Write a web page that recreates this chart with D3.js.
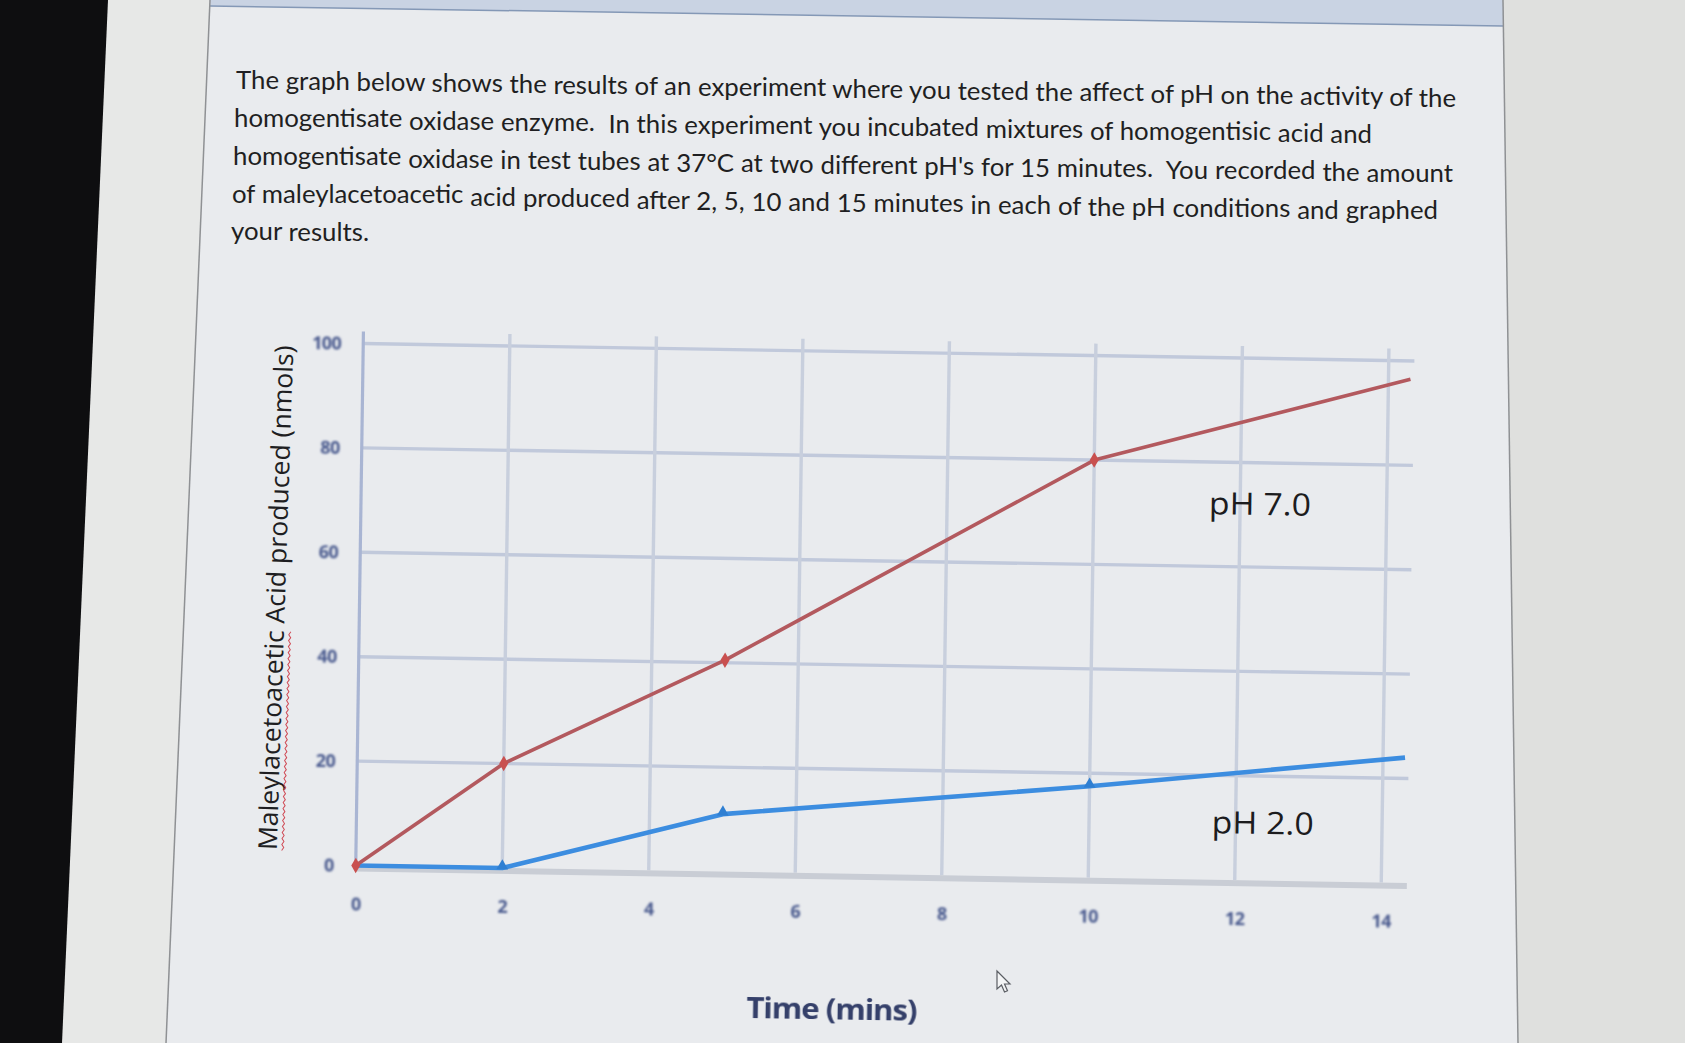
<!DOCTYPE html>
<html><head><meta charset="utf-8">
<script src="https://cdn.jsdelivr.net/npm/d3@7"></script>
<style>html,body{margin:0;padding:0;background:#dfe0de;overflow:hidden}</style>
</head><body><svg id="c" width="1685" height="1043"></svg>
<script>
// ---------- data ----------
const timeTicks = [0, 2, 4, 6, 8, 10, 12, 14];
const yTicks = [0, 20, 40, 60, 80, 100];
const ph7Time = [0, 2, 5, 10, 14.3];
const ph7Values = [0, 20, 40.5, 80, 96.5];
const ph2Time = [0, 2, 5, 10, 14.3];
const ph2Values = [0, 0, 11, 17.5, 24];
const seriesLabels = ["pH 7.0", "pH 2.0"];
const xTitle = "Time (mins)";
const yTitle = "Maleylacetoacetic Acid produced (nmols)";
const paragraphLines = [
  "The graph below shows the results of an experiment where you tested the affect of pH on the activity of the",
  "homogentisate oxidase enzyme.  In this experiment you incubated mixtures of homogentisic acid and",
  "homogentisate oxidase in test tubes at 37\u00B0C at two different pH's for 15 minutes.  You recorded the amount",
  "of maleylacetoacetic acid produced after 2, 5, 10 and 15 minutes in each of the pH conditions and graphed",
  "your results."
];

// ---------- layout ----------
const svg = d3.select("#c");
const defs = svg.append("defs");
defs.append("filter").attr("id","blur").append("feGaussianBlur").attr("stdDeviation",0.8);
defs.append("filter").attr("id","blur2").append("feGaussianBlur").attr("stdDeviation",0.45);

// background of the photographed screen
svg.append("rect").attr("width",1685).attr("height",1043).attr("fill","#dfe0de");
svg.append("polygon").attr("points","100,0 215,0 170,1043 55,1043").attr("fill","#e7e8e7");
svg.append("polygon").attr("points","210,0 1503,0 1518,1043 166,1043").attr("fill","#e9ebee");
svg.append("polygon").attr("points","0,0 108,0 62,1043 0,1043").attr("fill","#0e0e10");
svg.append("polygon").attr("points","210,0 1503,0 1503,26 210,6").attr("fill","#c9d3e3");
svg.append("line").attr("x1",210).attr("y1",6).attr("x2",1503).attr("y2",26).attr("stroke","#8498b6").attr("stroke-width",1.5);
svg.append("line").attr("x1",210).attr("y1",0).attr("x2",166).attr("y2",1043).attr("stroke","#8f9194").attr("stroke-width",1.5);
svg.append("line").attr("x1",1503).attr("y1",0).attr("x2",1518).attr("y2",1043).attr("stroke","#8f9194").attr("stroke-width",1.5);

// paragraph: each word placed along the slightly slanted line of the photo
const para = svg.append("g");
const paraStarts = [236, 234, 233, 232, 231];
const paraWidths = [1220, 1138, 1220, 1206, 140];
const paraBase = [89, 127, 165, 203, 240];
const slope = 0.0148;
const probe = para.append("text").attr("font-family","Lato").attr("font-size",25).style("white-space","pre").text(paragraphLines[0]);
const fsPara = 25 * 1220 / probe.node().getComputedTextLength();
probe.attr("font-size", fsPara);
paragraphLines.forEach((ln, li) => {
  probe.text(ln);
  const natural = probe.node().getComputedTextLength();
  const nSpaces = (ln.match(/ /g) || []).length;
  const extra = li === 4 ? 0 : (paraWidths[li] - natural) / Math.max(1, nSpaces);
  let re = /\S+/g, m, words = [];
  while ((m = re.exec(ln)) !== null) {
    const pre = m.index > 0 ? probe.node().getSubStringLength(0, m.index) : 0;
    const spacesBefore = (ln.slice(0, m.index).match(/ /g) || []).length;
    words.push({w: m[0], dx: pre + spacesBefore * extra});
  }
  para.append("g").selectAll("text").data(words).join("text")
    .attr("x", d => paraStarts[li] + d.dx)
    .attr("y", d => paraBase[li] + (paraStarts[li] + d.dx - 236) * slope)
    .attr("font-family","Lato").attr("font-size",fsPara).attr("fill","#1f1f22")
    .text(d => d.w);
});
probe.remove();

// ---------- chart (slightly skewed like the photo) ----------
const W = 1025.5, H = 522;
const g = svg.append("g").attr("transform","matrix(1,0.01658,-0.01437,1,363.25,343.5)");
const x = d3.scaleLinear().domain([0,14]).range([0,W]);
const y = d3.scaleLinear().domain([0,100]).range([H,0]);
const xEnd = 14.35;

// horizontal gridlines
g.append("g").selectAll("line").data(yTicks.filter(v=>v>0)).join("line")
  .attr("x1",x(0)).attr("x2",x(xEnd)).attr("y1",d=>y(d)).attr("y2",d=>y(d))
  .attr("stroke","#c1c9db").attr("stroke-width",3.4);
// vertical gridlines
g.append("g").selectAll("line").data(timeTicks.filter(v=>v>0)).join("line")
  .attr("x1",d=>x(d)).attr("x2",d=>x(d)).attr("y1",y(100)-12).attr("y2",y(0))
  .attr("stroke","#c8cfdd").attr("stroke-width",3.4);
// bottom line
g.append("line").attr("x1",x(0)).attr("x2",x(xEnd)).attr("y1",y(0)+3).attr("y2",y(0)+3)
  .attr("stroke","#c9cdd5").attr("stroke-width",6);
// y axis line
g.append("line").attr("x1",x(0)).attr("x2",x(0)).attr("y1",y(100)-12).attr("y2",y(0))
  .attr("stroke","#a9b5d3").attr("stroke-width",3.2);

// axes tick labels
const xAxis = g.append("g").attr("transform",`translate(0,${H})`)
  .call(d3.axisBottom(x).tickValues(timeTicks).tickSize(0).tickPadding(32).tickFormat(d3.format("d")));
xAxis.select(".domain").remove();
const yAxis = g.append("g")
  .call(d3.axisLeft(y).tickValues(yTicks).tickSize(0).tickPadding(22).tickFormat(d3.format("d")));
yAxis.select(".domain").remove();
[xAxis, yAxis].forEach(a => a.selectAll("text")
  .attr("font-family","Noto Sans").attr("font-size",18).attr("font-weight","bold")
  .attr("fill","#4a5a8e").attr("letter-spacing",-0.6).attr("filter","url(#blur)"));

// series
const ph7 = ph7Time.map((t,i)=>[t, ph7Values[i]]);
const ph2 = ph2Time.map((t,i)=>[t, ph2Values[i]]);
const line = d3.line().x(d=>x(d[0])).y(d=>y(d[1]));
g.append("path").datum(ph2).attr("d",line).attr("fill","none")
  .attr("stroke","#3c8de0").attr("stroke-width",4.6).attr("stroke-linejoin","round");
g.append("path").datum(ph7).attr("d",line).attr("fill","none")
  .attr("stroke","#b3595e").attr("stroke-width",3.6).attr("stroke-linejoin","round");
g.append("g").selectAll("path").data(ph2.slice(1,-1)).join("path")
  .attr("transform",d=>`translate(${x(d[0])},${y(d[1])-2})`)
  .attr("d",d3.symbol(d3.symbolTriangle,60)).attr("fill","#2f7fd2");
g.append("g").selectAll("path").data(ph7.slice(0,-1)).join("path")
  .attr("transform",d=>`translate(${x(d[0])},${y(d[1])})`)
  .attr("d",d3.symbol(d3.symbolDiamond,70)).attr("fill","#c9504f");

// series labels
const labelPos = [[12.27,72.3],[12.37,11.2]];
g.selectAll("text.lab").data(seriesLabels).join("text").attr("class","lab")
  .attr("x",(d,i)=>x(labelPos[i][0])).attr("y",(d,i)=>y(labelPos[i][1]))
  .attr("text-anchor","middle").attr("dominant-baseline","central")
  .attr("font-family","Open Sans").attr("font-size",31).attr("fill","#1c1c1e")
  .attr("textLength",102).attr("lengthAdjust","spacingAndGlyphs").text(d=>d);

// x title
g.append("text").attr("x",477.6).attr("y",668).attr("text-anchor","middle")
  .attr("font-family","Open Sans").attr("font-weight","bold").attr("font-size",29)
  .attr("fill","#35416b").attr("textLength",170).attr("lengthAdjust","spacingAndGlyphs")
  .attr("letter-spacing",-1).attr("filter","url(#blur2)").text(xTitle);

// y title
const yt = svg.append("g").attr("transform","translate(285,598) rotate(-88.1)");
const ytText = yt.append("text").attr("text-anchor","middle")
  .attr("font-family","Open Sans").attr("font-size",26).attr("fill","#1e1e22").text(yTitle);
const natural = ytText.node().getComputedTextLength();
const subLen = ytText.node().getSubStringLength(0, 17);
ytText.attr("textLength",505).attr("lengthAdjust","spacingAndGlyphs");
const ulLen = 505 * subLen / natural;
const wave = d3.range(0, Math.floor(ulLen/3)+1).map(k => [-252.5 + k*3, 5 + (k%2 ? 2 : 0)]);
yt.append("path").attr("d", d3.line()(wave)).attr("fill","none").attr("stroke","#d04a55").attr("stroke-width",1);

// mouse cursor
svg.append("path").attr("transform","translate(997,971)")
  .attr("d","M0,0 L0,18 L4.5,14 L7.5,21 L10.5,19.7 L7.5,13 L13,13 Z")
  .attr("fill","#f4f5f6").attr("stroke","#5a5d63").attr("stroke-width",1.2);
</script></body></html>
